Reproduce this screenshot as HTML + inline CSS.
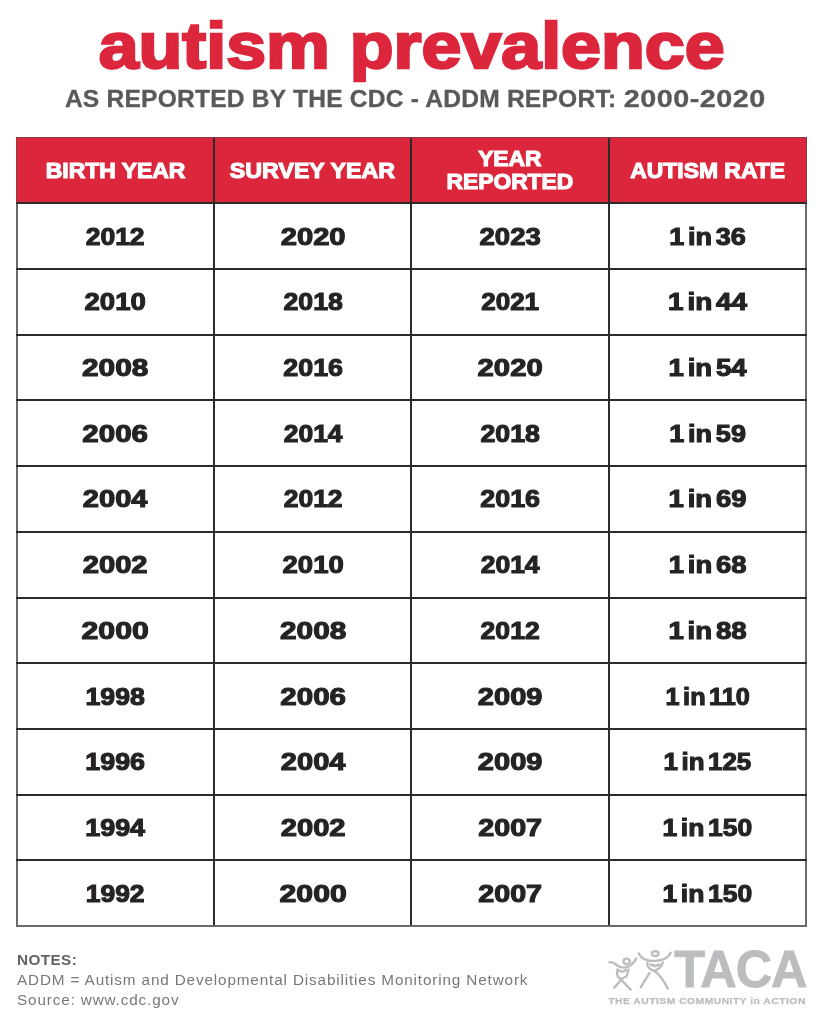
<!DOCTYPE html>
<html lang="en">
<head>
<meta charset="utf-8">
<title>autism prevalence</title>
<style>
html,body{margin:0;padding:0;background:#fff;}
body{width:823px;height:1024px;position:relative;overflow:hidden;font-family:"Liberation Sans",sans-serif;}
h1{position:absolute;left:0;top:5.5px;width:823px;margin:0;text-align:center;color:#DC263C;
  font-family:"Liberation Sans",sans-serif;font-weight:bold;font-size:65px;line-height:80px;white-space:nowrap;
  -webkit-text-stroke:2.5px #DC263C;}
h1 span{display:inline-block;transform:scaleX(1.1034);transform-origin:50% 50%;}
h2{position:absolute;left:4.2px;top:85px;width:823px;margin:0;text-align:center;color:#58595B;
  font-family:"Liberation Sans",sans-serif;font-weight:bold;font-size:24.6px;line-height:28px;white-space:nowrap;letter-spacing:0.2px;-webkit-text-stroke:0.3px #58595B;}
h2 .yr{display:inline-block;transform:scaleX(1.17);transform-origin:50% 50%;margin:0 10px 0 11px;letter-spacing:0.4px;}
h2>span{display:inline-block;transform:scaleX(1.0003);transform-origin:50% 50%;}
.grid{position:absolute;left:0;top:0;width:823px;height:1024px;}
.hdr{position:absolute;left:16px;top:137px;width:791px;height:67px;background:#DC263C;}
.th,.td{position:absolute;display:flex;align-items:center;justify-content:center;text-align:center;white-space:nowrap;font-weight:bold;}
.th{top:137.2px;height:66px;color:#fff;font-size:21.2px;line-height:23px;-webkit-text-stroke:1.1px #fff;}
.td{height:65.7px;color:#262324;font-size:24.4px;-webkit-text-stroke:1.1px #262324;padding-top:1px;box-sizing:border-box;}
.th span,.td span{display:inline-block;transform-origin:50% 50%;}
.td.c3 span{word-spacing:-3.4px;}
.vl{position:absolute;top:137px;width:2px;height:790px;background:#2b2b2b;}
.vl.o,.hl.o{background:#6a6a6a;}
.vl.o{top:203px;height:724px;}
.ht{position:absolute;left:16px;top:137px;width:791px;height:1px;background:#8a3a42;}
.hs{position:absolute;top:137px;width:1px;height:66px;background:#8a3a42;}
.hl{position:absolute;left:16px;width:791px;height:2px;background:#2b2b2b;}
.notes{position:absolute;left:17px;top:949.5px;color:#77787b;font-size:15.3px;line-height:20px;letter-spacing:0.85px;white-space:nowrap;}
.notes b{color:#636466;letter-spacing:0.4px}
.logo{position:absolute;left:600px;top:940px;width:210px;height:75px;color:#bbbdbf;}
.logo .taca{position:absolute;right:3.6px;top:3.9px;font-weight:bold;font-size:51px;line-height:52px;white-space:nowrap;letter-spacing:-1.1px;-webkit-text-stroke:0.8px #bbbdbf;transform:scale(0.99,1.0);transform-origin:100% 50%;}
.logo .tag{position:absolute;right:4px;top:54.5px;font-weight:bold;font-size:9.4px;line-height:12px;white-space:nowrap;letter-spacing:0.45px;-webkit-text-stroke:0.25px #bbbdbf;transform:scaleX(1.0985);transform-origin:100% 50%;}
.logo svg{position:absolute;left:0;top:0;}
</style>
</head>
<body>
<h1><span>autism prevalence</span></h1>
<h2><span>AS REPORTED BY THE CDC - ADDM REPORT: <span class="yr">2000-2020</span></span></h2>
<div class="grid">
<div class="hdr"></div>
<div class="th" style="left:17.00px;width:197.25px"><span style="transform:scaleX(1.0820)">BIRTH YEAR</span></div>
<div class="th" style="left:214.25px;width:197.00px"><span style="transform:scaleX(1.0950)">SURVEY YEAR</span></div>
<div class="th" style="left:411.25px;width:197.50px"><span style="transform:scaleX(1.0773)">YEAR<br>REPORTED</span></div>
<div class="th" style="left:608.75px;width:197.25px"><span style="transform:scaleX(1.0808)">AUTISM RATE</span></div>
<div class="td c0" style="left:17.00px;top:203.30px;width:197.25px"><span style="transform:scaleX(1.0860)">2012</span></div>
<div class="td c1" style="left:214.25px;top:203.30px;width:197.00px"><span style="transform:scaleX(1.1949)">2020</span></div>
<div class="td c2" style="left:411.25px;top:203.30px;width:197.50px"><span style="transform:scaleX(1.1270)">2023</span></div>
<div class="td c3" style="left:608.75px;top:203.30px;width:197.25px"><span style="transform:scaleX(1.1080)">1 in 36</span></div>
<div class="td c0" style="left:17.00px;top:269.00px;width:197.25px"><span style="transform:scaleX(1.1271)">2010</span></div>
<div class="td c1" style="left:214.25px;top:269.00px;width:197.00px"><span style="transform:scaleX(1.0927)">2018</span></div>
<div class="td c2" style="left:411.25px;top:269.00px;width:197.50px"><span style="transform:scaleX(1.0669)">2021</span></div>
<div class="td c3" style="left:608.75px;top:269.00px;width:197.25px"><span style="transform:scaleX(1.1456)">1 in 44</span></div>
<div class="td c0" style="left:17.00px;top:334.70px;width:197.25px"><span style="transform:scaleX(1.2201)">2008</span></div>
<div class="td c1" style="left:214.25px;top:334.70px;width:197.00px"><span style="transform:scaleX(1.1007)">2016</span></div>
<div class="td c2" style="left:411.25px;top:334.70px;width:197.50px"><span style="transform:scaleX(1.1990)">2020</span></div>
<div class="td c3" style="left:608.75px;top:334.70px;width:197.25px"><span style="transform:scaleX(1.1301)">1 in 54</span></div>
<div class="td c0" style="left:17.00px;top:400.40px;width:197.25px"><span style="transform:scaleX(1.2103)">2006</span></div>
<div class="td c1" style="left:214.25px;top:400.40px;width:197.00px"><span style="transform:scaleX(1.0839)">2014</span></div>
<div class="td c2" style="left:411.25px;top:400.40px;width:197.50px"><span style="transform:scaleX(1.0947)">2018</span></div>
<div class="td c3" style="left:608.75px;top:400.40px;width:197.25px"><span style="transform:scaleX(1.1106)">1 in 59</span></div>
<div class="td c0" style="left:17.00px;top:466.10px;width:197.25px"><span style="transform:scaleX(1.1917)">2004</span></div>
<div class="td c1" style="left:214.25px;top:466.10px;width:197.00px"><span style="transform:scaleX(1.0860)">2012</span></div>
<div class="td c2" style="left:411.25px;top:466.10px;width:197.50px"><span style="transform:scaleX(1.1028)">2016</span></div>
<div class="td c3" style="left:608.75px;top:466.10px;width:197.25px"><span style="transform:scaleX(1.1267)">1 in 69</span></div>
<div class="td c0" style="left:17.00px;top:531.80px;width:197.25px"><span style="transform:scaleX(1.1949)">2002</span></div>
<div class="td c1" style="left:214.25px;top:531.80px;width:197.00px"><span style="transform:scaleX(1.1271)">2010</span></div>
<div class="td c2" style="left:411.25px;top:531.80px;width:197.50px"><span style="transform:scaleX(1.0857)">2014</span></div>
<div class="td c3" style="left:608.75px;top:531.80px;width:197.25px"><span style="transform:scaleX(1.1234)">1 in 68</span></div>
<div class="td c0" style="left:17.00px;top:597.50px;width:197.25px"><span style="transform:scaleX(1.2372)">2000</span></div>
<div class="td c1" style="left:214.25px;top:597.50px;width:197.00px"><span style="transform:scaleX(1.2201)">2008</span></div>
<div class="td c2" style="left:411.25px;top:597.50px;width:197.50px"><span style="transform:scaleX(1.0878)">2012</span></div>
<div class="td c3" style="left:608.75px;top:597.50px;width:197.25px"><span style="transform:scaleX(1.1323)">1 in 88</span></div>
<div class="td c0" style="left:17.00px;top:663.20px;width:197.25px"><span style="transform:scaleX(1.0948)">1998</span></div>
<div class="td c1" style="left:214.25px;top:663.20px;width:197.00px"><span style="transform:scaleX(1.2103)">2006</span></div>
<div class="td c2" style="left:411.25px;top:663.20px;width:197.50px"><span style="transform:scaleX(1.1917)">2009</span></div>
<div class="td c3" style="left:608.75px;top:663.20px;width:197.25px"><span style="transform:scaleX(1.0349)">1 in 110</span></div>
<div class="td c0" style="left:17.00px;top:728.90px;width:197.25px"><span style="transform:scaleX(1.1014)">1996</span></div>
<div class="td c1" style="left:214.25px;top:728.90px;width:197.00px"><span style="transform:scaleX(1.1917)">2004</span></div>
<div class="td c2" style="left:411.25px;top:728.90px;width:197.50px"><span style="transform:scaleX(1.1917)">2009</span></div>
<div class="td c3" style="left:608.75px;top:728.90px;width:197.25px"><span style="transform:scaleX(1.0609)">1 in 125</span></div>
<div class="td c0" style="left:17.00px;top:794.60px;width:197.25px"><span style="transform:scaleX(1.1042)">1994</span></div>
<div class="td c1" style="left:214.25px;top:794.60px;width:197.00px"><span style="transform:scaleX(1.1949)">2002</span></div>
<div class="td c2" style="left:411.25px;top:794.60px;width:197.50px"><span style="transform:scaleX(1.1766)">2007</span></div>
<div class="td c3" style="left:608.75px;top:794.60px;width:197.25px"><span style="transform:scaleX(1.0849)">1 in 150</span></div>
<div class="td c0" style="left:17.00px;top:860.30px;width:197.25px"><span style="transform:scaleX(1.0857)">1992</span></div>
<div class="td c1" style="left:214.25px;top:860.30px;width:197.00px"><span style="transform:scaleX(1.2372)">2000</span></div>
<div class="td c2" style="left:411.25px;top:860.30px;width:197.50px"><span style="transform:scaleX(1.1766)">2007</span></div>
<div class="td c3" style="left:608.75px;top:860.30px;width:197.25px"><span style="transform:scaleX(1.0849)">1 in 150</span></div>
<i class="vl o" style="left:16.00px"></i>
<i class="vl" style="left:213.25px"></i>
<i class="vl" style="left:410.25px"></i>
<i class="vl" style="left:607.75px"></i>
<i class="vl o" style="left:805.00px"></i>
<i class="hl" style="top:202.30px"></i>
<i class="hl" style="top:268.00px"></i>
<i class="hl" style="top:333.70px"></i>
<i class="hl" style="top:399.40px"></i>
<i class="hl" style="top:465.10px"></i>
<i class="hl" style="top:530.80px"></i>
<i class="hl" style="top:596.50px"></i>
<i class="hl" style="top:662.20px"></i>
<i class="hl" style="top:727.90px"></i>
<i class="hl" style="top:793.60px"></i>
<i class="hl" style="top:859.30px"></i>
<i class="hl o" style="top:925.00px"></i>
<i class="ht"></i><i class="hs" style="left:16px"></i><i class="hs" style="left:806px"></i>
</div>
<div class="notes"><b>NOTES:</b><br>ADDM = Autism and Developmental Disabilities Monitoring Network<br>Source: www.cdc.gov</div>
<div class="logo">
<svg width="80" height="60" viewBox="600 940 80 60" fill="none" stroke="#bbbdbf" stroke-width="2.4" stroke-linecap="round" stroke-linejoin="round">
<!-- child -->
<path d="M609.5 962.3 C613 961.2 615 964 618 966 C622 968.5 628 968 631 965 C634 962 635.5 960.5 636.3 958.5"/>
<ellipse cx="626.6" cy="961.4" rx="3.2" ry="2.8"/>
<path d="M617.5 969.5 C616.5 973 617.5 977 620.5 979 L626.5 976.5 L628.5 969.5 M617.5 969.5 L622 972 L626 970"/>
<path d="M622.5 978.5 L614.2 987.6 M620.5 979 L630.6 989.6"/>
<!-- adult -->
<path d="M638.8 953.4 C641 958.5 647 961 654 961 C661 961 668 958.5 670.8 952.8"/>
<ellipse cx="655.2" cy="953.6" rx="3.4" ry="2.4"/>
<path d="M647.5 962.5 C646.5 966 649 969.5 654.5 971 C659 969 662 966 662.8 962.5 M650.5 964.5 L655 966 L659.5 964.5"/>
<path d="M649.5 973 L640.8 987.2 M654.5 971 C660 975 664 981 667.8 988.5"/>
</svg>
<div class="taca">TACA</div>
<div class="tag">THE AUTISM COMMUNITY in ACTION</div>
</div>
</body>
</html>
